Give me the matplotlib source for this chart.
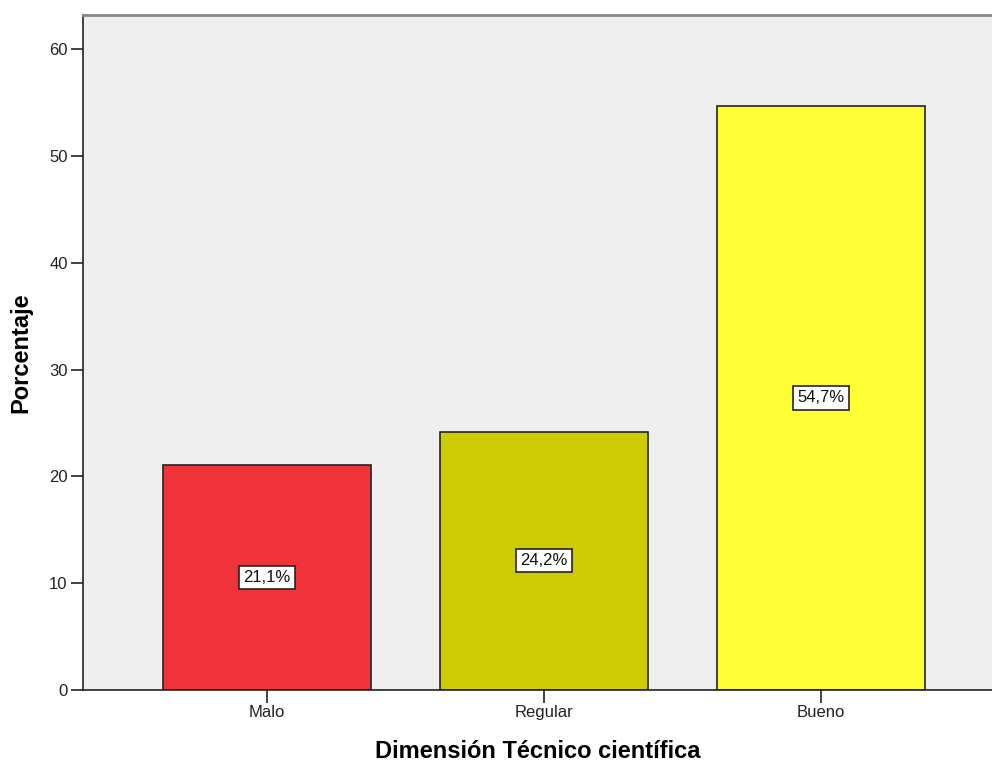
import numpy as np
from matplotlib import pyplot as plt

categorias = ['Malo', 'Regular', 'Bueno']
porcentajes = [21.1, 24.2, 54.7]
etiquetas = ['21,1%', '24,2%', '54,7%']
colores = ['#F0333B', '#CCCC00', '#FFFF33']

plt.rcParams['font.family'] = ['Liberation Sans', 'DejaVu Sans']

fig = plt.figure(figsize=(9.92, 7.63), dpi=100)
ax = fig.add_axes([83/992, 1 - 690/763, 1 - 83/992, (690 - 15)/763])
ax.set_facecolor('#EFEFEF')

x = np.arange(len(categorias))
ax.bar(x, porcentajes, width=0.75, color=colores, edgecolor='#222222', linewidth=1.2, zorder=2)

for xi, v, t in zip(x, porcentajes, etiquetas):
  ax.text(xi, v / 2, t, ha='center', va='center', fontsize=12, color='#111111', zorder=3,
          bbox=dict(boxstyle='square,pad=0.25', facecolor='white', edgecolor='#222222', linewidth=1.2))

ax.set_xlim(-184/277, (992 - 267)/277)
ax.set_ylim(0, 63.2)
ax.set_yticks(range(0, 61, 10))
ax.set_xticks(x)
ax.set_xticklabels(categorias)
ax.tick_params(axis='both', labelsize=12, length=9, width=1.2, pad=2, color='#222222', labelcolor='#222222')

ax.spines['right'].set_visible(False)
ax.spines['top'].set_color('#888888')
ax.spines['top'].set_linewidth(2)
ax.spines['left'].set_color('#222222')
ax.spines['bottom'].set_color('#222222')
ax.spines['left'].set_linewidth(1.2)
ax.spines['bottom'].set_linewidth(1.2)

ax.set_xlabel('Dimensión Técnico científica', fontsize=17, fontweight='bold', labelpad=14)
ax.set_ylabel('Porcentaje', fontsize=17, fontweight='bold', labelpad=12)

plt.savefig('out.png', dpi=100)
